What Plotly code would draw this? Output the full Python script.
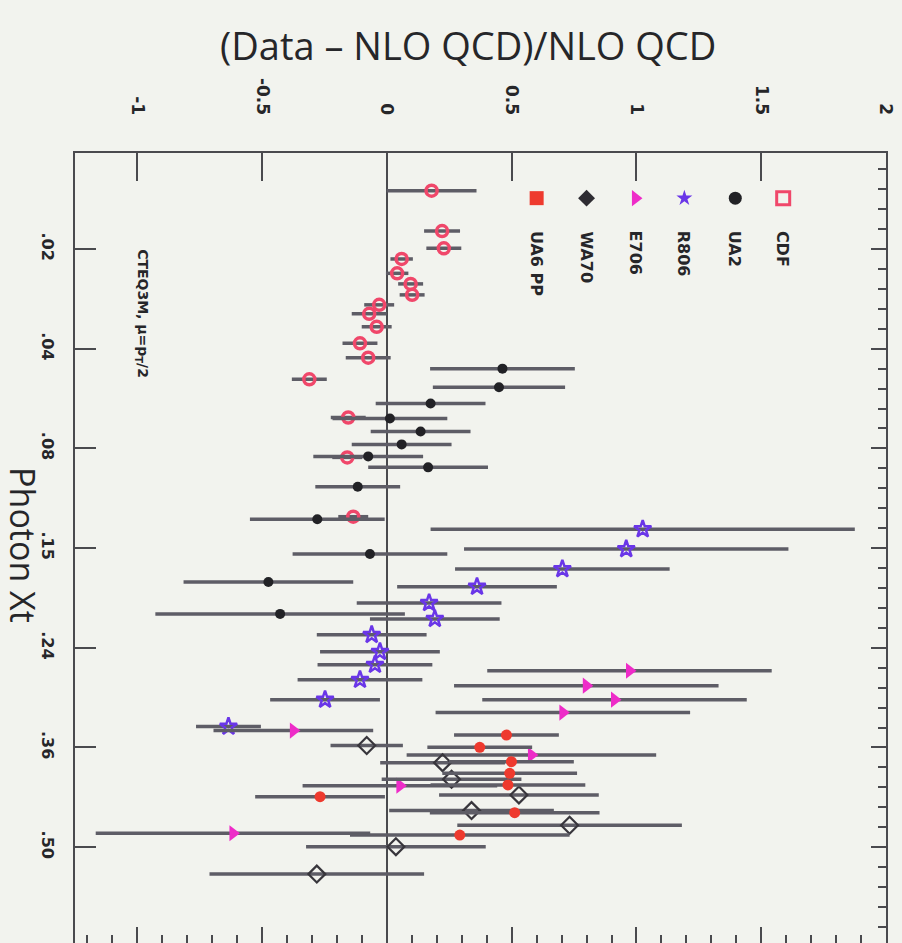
import plotly.graph_objects as go

# ---- data: position on the Photon Xt axis (tick index units) and (Data-NLO)/NLO ----
xt_tick_labels = [".02", ".04", ".08", ".15", ".24", ".36", ".50"]
xt_tick_pos = [1, 2, 3, 4, 5, 6, 7]

ratio_tick_vals = [-1, -0.5, 0, 0.5, 1, 1.5, 2]
ratio_tick_text = ["-1", "-0.5", "0", "0.5", "1", "1.5", "2"]

cdf_pos = [0.415, 0.82, 0.993, 1.10, 1.244, 1.35, 1.46, 1.56, 1.65, 1.78, 1.946, 2.09, 2.307, 2.69, 3.09, 3.685]
cdf_val = [0.179, 0.221, 0.228, 0.059, 0.041, 0.095, 0.101, -0.031, -0.071, -0.041, -0.108, -0.075, -0.311, -0.155, -0.159, -0.135]
cdf_err = [0.18, 0.072, 0.07, 0.045, 0.045, 0.05, 0.05, 0.06, 0.07, 0.06, 0.07, 0.09, 0.07, 0.07, 0.06, 0.06]

ua2_pos = [2.20, 2.387, 2.55, 2.70, 2.83, 2.96, 3.08, 3.19, 3.384, 3.71, 4.06, 4.34, 4.66]
ua2_val = [0.463, 0.449, 0.175, 0.012, 0.135, 0.059, -0.075, 0.165, -0.117, -0.279, -0.068, -0.475, -0.428]
ua2_err = [0.29, 0.265, 0.22, 0.23, 0.20, 0.20, 0.22, 0.24, 0.17, 0.27, 0.31, 0.34, 0.50]

r806_pos = [3.81, 4.01, 4.21, 4.387, 4.55, 4.71, 4.87, 5.04, 5.17, 5.32, 5.52, 5.79]
r806_val = [1.025, 0.959, 0.703, 0.361, 0.169, 0.192, -0.061, -0.028, -0.048, -0.108, -0.248, -0.635]
r806_err = [0.85, 0.65, 0.43, 0.32, 0.29, 0.26, 0.22, 0.24, 0.23, 0.25, 0.22, 0.13]

e706_pos = [5.23, 5.38, 5.52, 5.65, 5.83, 6.075, 6.383, 6.86]
e706_val = [0.972, 0.799, 0.912, 0.705, -0.375, 0.579, 0.052, -0.617]
e706_err = [0.57, 0.53, 0.53, 0.51, 0.32, 0.50, 0.39, 0.55]

wa70_pos = [5.98, 6.152, 6.319, 6.476, 6.633, 6.78, 6.995, 7.27]
wa70_val = [-0.081, 0.223, 0.259, 0.529, 0.339, 0.732, 0.036, -0.281]
wa70_err = [0.145, 0.25, 0.28, 0.32, 0.33, 0.45, 0.36, 0.43]

ua6_pos = [5.875, 5.998, 6.142, 6.259, 6.376, 6.493, 6.654, 6.878]
ua6_val = [0.479, 0.372, 0.499, 0.492, 0.485, -0.268, 0.512, 0.292]
ua6_err = [0.21, 0.21, 0.25, 0.27, 0.31, 0.26, 0.34, 0.44]

# key, drawn inside the frame as a row of symbols with rotated names
key_names = ["UA6 PP", "WA70", "E706", "R806", "UA2", "CDF"]
key_x = [0.60, 0.80, 0.996, 1.192, 1.396, 1.588]
key_symbol_row = 0.49
key_text_row = 0.80

BG = "#f2f3ee"
AX = "#4a4a4e"
BAR = "#5e5d66"
TXT = "#262629"

fig = go.Figure()


def series(pos, val, err, symbol, color, size, line_width=0):
    fig.add_trace(go.Scatter(
        x=val, y=pos, mode="markers",
        error_x=dict(type="data", array=err, color=BAR, thickness=3.5, width=0),
        marker=dict(symbol=symbol, color=color, size=size, opacity=1,
                    line=dict(color=color, width=line_width)),
        showlegend=False, hoverinfo="skip",
    ))


series(cdf_pos, cdf_val, cdf_err, "circle-open", "#f0476a", 11, line_width=3.5)
series(ua2_pos, ua2_val, ua2_err, "circle", "#222226", 10)
series(r806_pos, r806_val, r806_err, "star-open", "#6a36e8", 13, line_width=2.5)
series(e706_pos, e706_val, e706_err, "triangle-right", "#ee2cc8", 14)
series(wa70_pos, wa70_val, wa70_err, "diamond-open", "#38363c", 13, line_width=2.2)
series(ua6_pos, ua6_val, ua6_err, "circle", "#ee3a2e", 11)

# key symbols, one trace each
key_symbols = ["square", "diamond", "triangle-right", "star", "circle", "square-open"]
key_colors = ["#ee3a2e", "#2e2c32", "#ee2cc8", "#6a36e8", "#222226", "#f0476a"]
key_sizes = [14, 13, 14, 12, 13, 13]
key_lines = [0, 0, 0, 0, 0, 3]
for kx, sym, col, sz, lw in zip(key_x, key_symbols, key_colors, key_sizes, key_lines):
    fig.add_trace(go.Scatter(
        x=[kx], y=[key_symbol_row], mode="markers",
        marker=dict(symbol=sym, color=col, size=sz, opacity=1, line=dict(color=col, width=lw)),
        showlegend=False, hoverinfo="skip",
    ))
for name, kx in zip(key_names, key_x):
    fig.add_annotation(x=kx, y=key_text_row, xref="x", yref="y", text=name,
                       textangle=90, showarrow=False, xanchor="center", yanchor="top",
                       font=dict(family="DejaVu Sans", size=16, color=TXT, weight="bold"))

# placeholder points (outside the ranges) so the mirrored tick axes get drawn
fig.add_trace(go.Scatter(x=[-5], y=[4], xaxis="x2", yaxis="y", mode="markers",
                         showlegend=False, hoverinfo="skip"))
fig.add_trace(go.Scatter(x=[0], y=[-5], xaxis="x", yaxis="y2", mode="markers",
                         showlegend=False, hoverinfo="skip"))

XR = [-1.25, 2.0]
YR = [7.961, 0.037]

fig.update_layout(
    width=902, height=943,
    margin=dict(l=75, r=16, t=153, b=0),
    paper_bgcolor=BG, plot_bgcolor=BG,
    xaxis=dict(
        range=XR, side="top", showgrid=False,
        zeroline=True, zerolinecolor=AX, zerolinewidth=2,
        showline=True, linecolor=AX, linewidth=2, mirror=False,
        tickmode="array", tickvals=ratio_tick_vals, ticktext=ratio_tick_text,
        ticks="inside", ticklen=28, tickwidth=2, tickcolor=AX,
        tickangle=90, ticklabelstandoff=30,
        tickfont=dict(family="DejaVu Sans", size=17, color=TXT, weight="bold"),
    ),
    xaxis2=dict(
        range=XR, overlaying="x", side="bottom", showgrid=False, zeroline=False,
        showline=False, showticklabels=False,
        tickmode="linear", tick0=0, dtick=0.5,
        ticks="inside", ticklen=16, tickwidth=2, tickcolor=AX,
        minor=dict(dtick=0.1, tick0=0, ticks="inside", ticklen=8, tickwidth=2, tickcolor=AX),
    ),
    yaxis=dict(
        range=YR, showgrid=False, zeroline=False,
        showline=True, linecolor=AX, linewidth=2, mirror=True,
        tickmode="array", tickvals=xt_tick_pos, ticktext=xt_tick_labels,
        ticks="inside", ticklen=21, tickwidth=2, tickcolor=AX,
        tickangle=90, ticklabelstandoff=12,
        tickfont=dict(family="DejaVu Sans", size=16, color=TXT, weight="bold"),
    ),
    yaxis2=dict(
        range=YR, overlaying="y", side="right", showgrid=False, zeroline=False,
        showline=False, showticklabels=False,
        tickmode="linear", tick0=1, dtick=1,
        ticks="inside", ticklen=15, tickwidth=2, tickcolor=AX,
        minor=dict(dtick=0.2, tick0=1, ticks="inside", ticklen=8, tickwidth=2, tickcolor=AX),
    ),
    annotations=list(fig.layout.annotations) + [
        dict(text="(Data \u2013 NLO QCD)/NLO QCD", xref="paper", yref="paper",
             x=0.485, y=1.0, yshift=108, showarrow=False, xanchor="center", yanchor="middle",
             font=dict(family="Open Sans", size=38, color=TXT, weight=500)),
        dict(text="Photon Xt", textangle=90, xref="paper", yref="y",
             x=0, xshift=-52, y=3.97, showarrow=False, xanchor="center", yanchor="middle",
             borderpad=0,
             font=dict(family="Open Sans", size=34, color=TXT, weight=500)),
        dict(text="CTEQ3M, \u03bc=p<sub>T</sub>/2", textangle=90, xref="x", yref="y",
             x=-0.98, y=0.98, showarrow=False, xanchor="center", yanchor="top",
             font=dict(family="DejaVu Sans", size=14, color=TXT, weight="bold")),
    ],
)

fig.write_html("out.html")
